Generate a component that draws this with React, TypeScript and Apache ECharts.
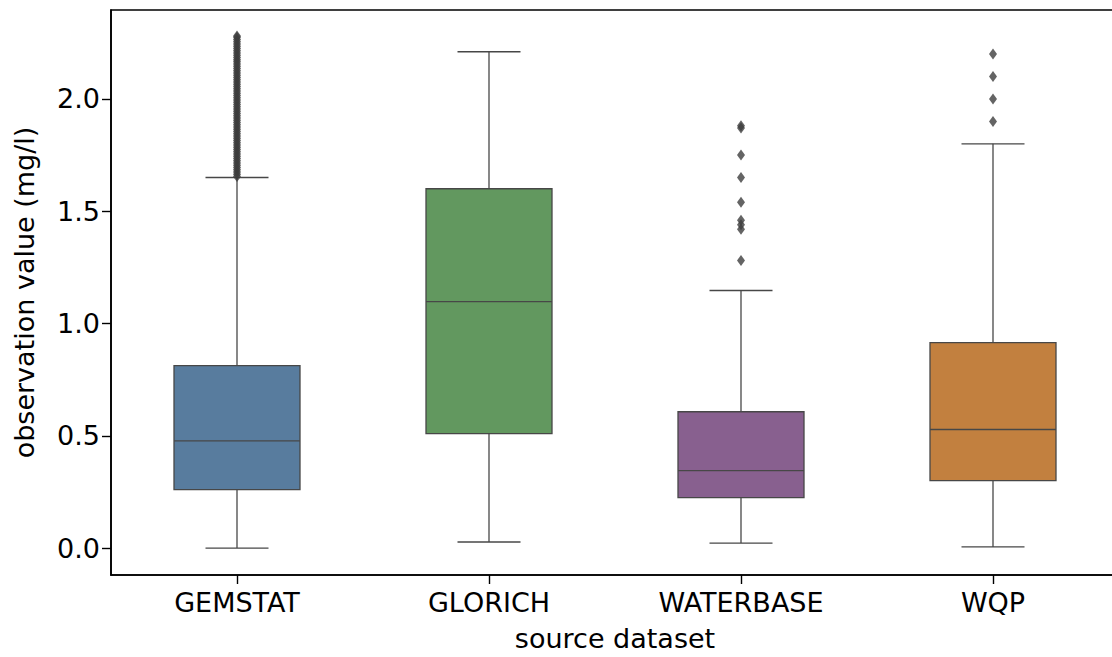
import React, { useEffect, useRef } from "react";
import * as echarts from "echarts";

const categories = ["GEMSTAT", "GLORICH", "WATERBASE", "WQP"];
const whiskerLow = [0.0, 0.027, 0.022, 0.005];
const q1 = [0.26, 0.51, 0.225, 0.3];
const median = [0.477, 1.097, 0.345, 0.528];
const q3 = [0.812, 1.6, 0.607, 0.915];
const whiskerHigh = [1.65, 2.21, 1.147, 1.8];
const boxColors = ["#587c9e", "#62985f", "#88608f", "#c2803f"];

const outliersGemstat = [
  1.655, 1.665, 1.675, 1.685, 1.695, 1.705, 1.715, 1.725, 1.735, 1.745, 1.755,
  1.765, 1.775, 1.785, 1.795, 1.805, 1.815, 1.825, 1.835, 1.845, 1.855, 1.865,
  1.875, 1.885, 1.895, 1.905, 1.915, 1.925, 1.935, 1.945, 1.955, 1.965, 1.975,
  1.985, 1.995, 2.005, 2.015, 2.025, 2.035, 2.045, 2.055, 2.065, 2.075, 2.085,
  2.095, 2.105, 2.115, 2.125, 2.135, 2.145, 2.155, 2.165, 2.175, 2.185, 2.195,
  2.205, 2.215, 2.225, 2.235, 2.245, 2.255, 2.265, 2.275, 2.28,
];
const outliersGlorich: number[] = [];
const outliersWaterbase = [1.88, 1.87, 1.75, 1.65, 1.54, 1.46, 1.44, 1.42, 1.28];
const outliersWqp = [2.2, 2.1, 2.0, 1.9];
const outliers = [outliersGemstat, outliersGlorich, outliersWaterbase, outliersWqp];

const yTicks = [0, 0.5, 1.0, 1.5, 2.0];
const yMin = -0.12;
const yMax = 2.396;

const LINE = "#474747";
const FONT = "DejaVu Sans";

export default function App() {
  const ref = useRef<HTMLDivElement>(null);
  useEffect(() => {
    if (!ref.current) return;
    const chart = echarts.init(ref.current, undefined, { renderer: "svg" });
    const boxData = categories.map((_, i) => [
      i,
      whiskerLow[i],
      q1[i],
      median[i],
      q3[i],
      whiskerHigh[i],
    ]);
    const outlierData: number[][] = [];
    outliers.forEach((arr, i) => arr.forEach((v) => outlierData.push([i, v])));

    chart.setOption({
      animation: false,
      backgroundColor: "#ffffff",
      grid: {
        left: 111,
        top: 10,
        right: 1,
        bottom: 82,
        show: true,
        borderColor: "#000",
        borderWidth: 1.6,
        backgroundColor: "transparent",
      },
      xAxis: {
        type: "category",
        data: categories,
        boundaryGap: true,
        name: "source dataset",
        nameLocation: "middle",
        nameGap: 50,
        nameTextStyle: { fontFamily: FONT, fontSize: 27, color: "#000" },
        axisLine: { onZero: false, lineStyle: { color: "#000", width: 1.6 } },
        axisTick: { show: true, alignWithLabel: true, length: 9, lineStyle: { color: "#000", width: 1.4 } },
        axisLabel: { fontFamily: FONT, fontSize: 27, color: "#000", margin: 14 },
        splitLine: { show: false },
      },
      yAxis: {
        type: "value",
        min: yMin,
        max: yMax,
        name: "observation value (mg/l)",
        nameLocation: "middle",
        nameGap: 73,
        nameRotate: 90,
        nameTextStyle: { fontFamily: FONT, fontSize: 27, color: "#000" },
        axisLine: { show: true, lineStyle: { color: "#000", width: 1.6 } },
        axisTick: { show: true, length: 9, customValues: yTicks, lineStyle: { color: "#000", width: 1.4 } },
        axisLabel: {
          fontFamily: FONT,
          fontSize: 27,
          color: "#000",
          margin: 11,
          customValues: yTicks,
          formatter: (v: number) => v.toFixed(1),
        },
        splitLine: { show: false },
      },
      series: [
        {
          type: "custom",
          data: boxData,
          encode: { x: 0, y: [1, 2, 3, 4, 5] },
          renderItem: (params: any, api: any) => {
            const idx = api.value(0);
            const pLow = api.coord([idx, api.value(1)]);
            const pQ1 = api.coord([idx, api.value(2)]);
            const pMed = api.coord([idx, api.value(3)]);
            const pQ3 = api.coord([idx, api.value(4)]);
            const pHigh = api.coord([idx, api.value(5)]);
            const band = api.size([1, 0])[0];
            const halfBox = band * 0.25;
            const halfCap = band * 0.125;
            const cx = pMed[0];
            const lineStyle = { stroke: LINE, lineWidth: 1.3 };
            return {
              type: "group",
              children: [
                { type: "line", shape: { x1: cx, y1: pLow[1], x2: cx, y2: pQ1[1] }, style: lineStyle },
                { type: "line", shape: { x1: cx, y1: pQ3[1], x2: cx, y2: pHigh[1] }, style: lineStyle },
                { type: "line", shape: { x1: cx - halfCap, y1: pLow[1], x2: cx + halfCap, y2: pLow[1] }, style: lineStyle },
                { type: "line", shape: { x1: cx - halfCap, y1: pHigh[1], x2: cx + halfCap, y2: pHigh[1] }, style: lineStyle },
                {
                  type: "rect",
                  shape: { x: cx - halfBox, y: pQ3[1], width: halfBox * 2, height: pQ1[1] - pQ3[1] },
                  style: { fill: boxColors[idx], stroke: LINE, lineWidth: 1.3 },
                },
                { type: "line", shape: { x1: cx - halfBox, y1: pMed[1], x2: cx + halfBox, y2: pMed[1] }, style: lineStyle },
              ],
            };
          },
          z: 2,
        },
        {
          type: "scatter",
          data: outlierData,
          symbol: "diamond",
          symbolSize: [8, 11],
          itemStyle: { color: "#3d3d3d" },
          z: 3,
        },
      ],
    });
    return () => chart.dispose();
  }, []);
  return (
    <div
      ref={ref}
      style={{ position: "fixed", left: 0, top: 0, width: 1120, height: 657 }}
    />
  );
}
